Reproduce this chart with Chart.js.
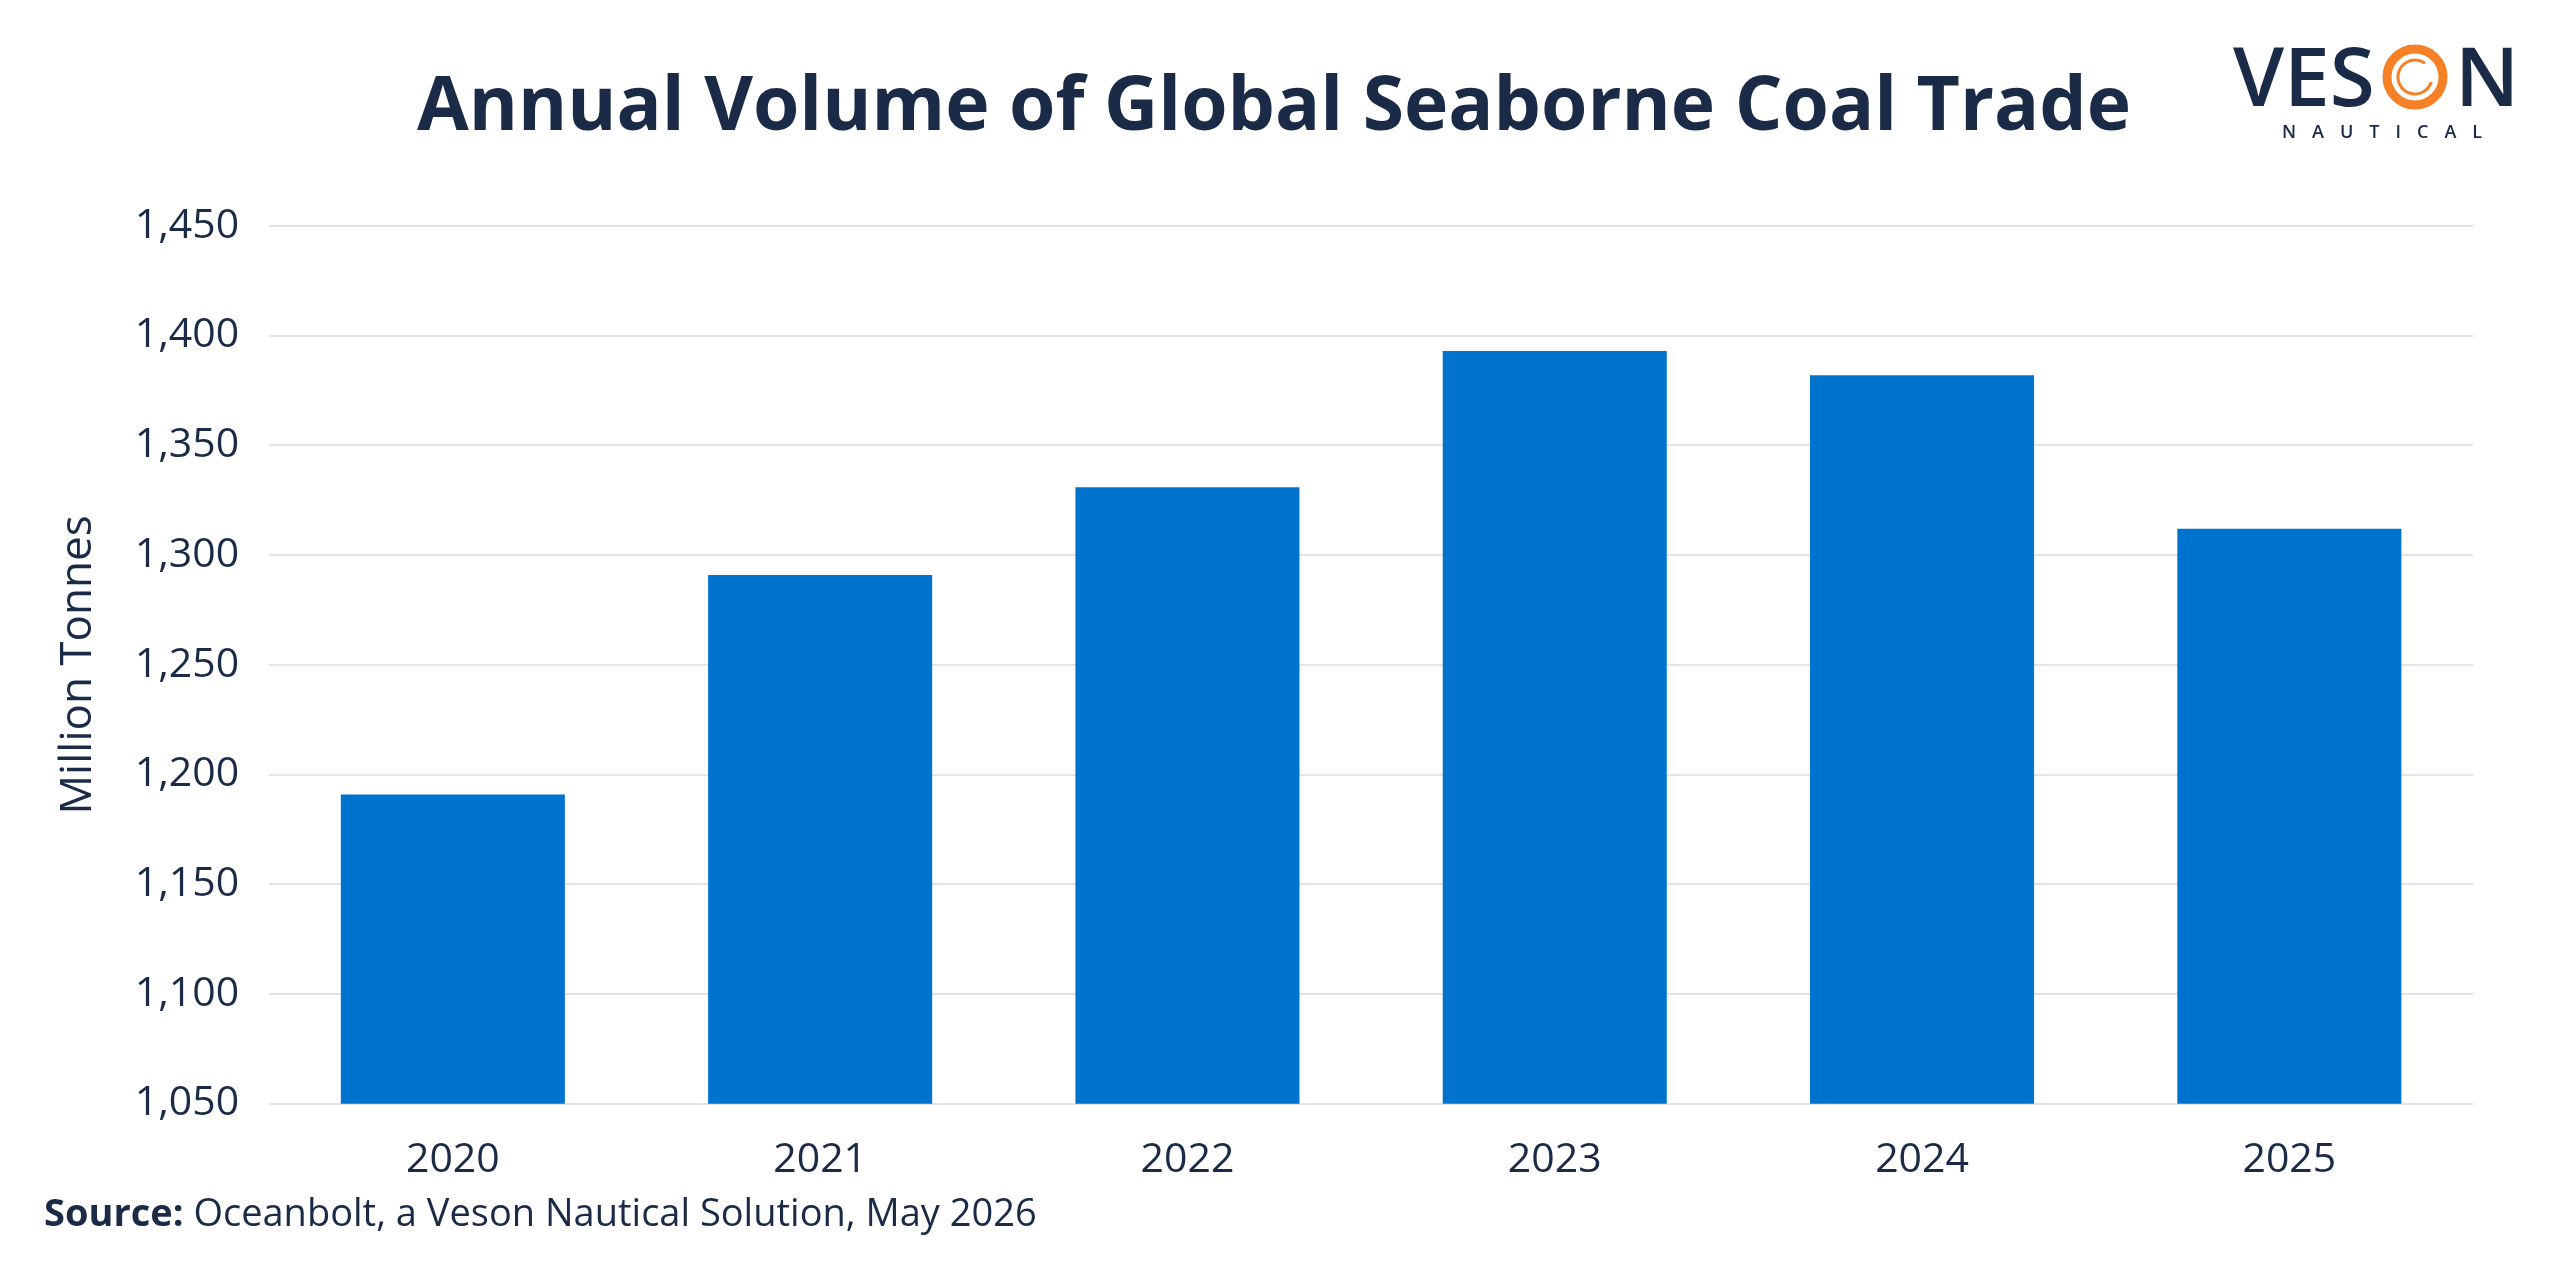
<!DOCTYPE html>
<html>
<head>
<meta charset="utf-8">
<script src="https://cdn.jsdelivr.net/npm/chart.js@4.4.1/dist/chart.umd.min.js"></script>
<style>
  html, body { margin: 0; padding: 0; background: #ffffff; }
  #wrap { width: 2560px; height: 1271px; }
</style>
</head>
<body>
<div id="wrap"><canvas id="coalChart"></canvas></div>
<script>
// Annual volume of global seaborne coal trade (million tonnes)
const years = ['2020', '2021', '2022', '2023', '2024', '2025'];
const volumes = [1191, 1291, 1331, 1393, 1382, 1312];
const yMin = 1050;
const yMax = 1450;
const yStep = 50;

const navy = '#1b2a47';
const barBlue = '#0073cf';
const orange = '#f58025';

// Title, source line and Veson logo drawn on the canvas after the chart
const extrasPlugin = {
  id: 'extras',
  afterDraw(chart) {
    const ctx = chart.ctx;
    ctx.save();
    ctx.fillStyle = navy;

    // title (centred on the page, not on the padded box)
    ctx.textAlign = 'center';
    ctx.textBaseline = 'alphabetic';
    ctx.font = 'bold 75px "Open Sans"';
    ctx.fillText('Annual Volume of Global Seaborne Coal Trade', 1274, 130);

    // source line
    ctx.textBaseline = 'middle';
    ctx.textAlign = 'left';
    ctx.font = 'bold 38px "Open Sans"';
    const label = 'Source:';
    ctx.fillText(label, 44, 1215);
    const w = ctx.measureText(label + ' ').width;
    ctx.font = '38px "Open Sans"';
    ctx.fillText('Oceanbolt, a Veson Nautical Solution, May 2026', 44 + w, 1215);

    // logo
    ctx.textBaseline = 'alphabetic';
    ctx.font = '600 82px "Open Sans"';
    ctx.fillText('VES', 2233, 106);
    ctx.fillText('N', 2455, 106);
    ctx.strokeStyle = orange;
    ctx.lineWidth = 9;
    ctx.beginPath();
    ctx.arc(2415, 77, 28, 0, Math.PI * 2);
    ctx.stroke();
    ctx.lineWidth = 3;
    ctx.beginPath();
    ctx.arc(2415, 77, 17, 0.3, Math.PI * 1.7);
    ctx.stroke();

    ctx.font = '600 18px "Open Sans"';
    if ('letterSpacing' in ctx) ctx.letterSpacing = '16px';
    ctx.fillText('NAUTICAL', 2282, 138);
    ctx.restore();
  }
};

new Chart(document.getElementById('coalChart'), {
  type: 'bar',
  data: {
    labels: years,
    datasets: [{
      data: volumes,
      backgroundColor: barBlue,
      borderWidth: 0,
      barPercentage: 0.61,
      categoryPercentage: 1.0
    }]
  },
  options: {
    responsive: true,
    maintainAspectRatio: false,
    animation: false,
    layout: { padding: { top: 226, left: 52, right: 87, bottom: 62 } },
    plugins: {
      legend: { display: false },
      tooltip: { enabled: false },
      title: { display: false }
    },
    scales: {
      x: {
        grid: { display: false },
        border: { display: false },
        ticks: {
          color: navy,
          padding: 24,
          font: { family: '"Open Sans"', size: 41 }
        }
      },
      y: {
        min: yMin,
        max: yMax,
        border: { display: false },
        grid: { color: '#e4e4e4', lineWidth: 2, drawTicks: false },
        ticks: {
          stepSize: yStep,
          color: navy,
          padding: 30,
          font: { family: '"Open Sans"', size: 41 }
        },
        title: {
          display: true,
          text: 'Million Tonnes',
          color: navy,
          font: { family: '"Open Sans"', size: 44 },
          padding: { top: 0, bottom: 0 }
        }
      }
    }
  },
  plugins: [extrasPlugin]
});
</script>
</body>
</html>
